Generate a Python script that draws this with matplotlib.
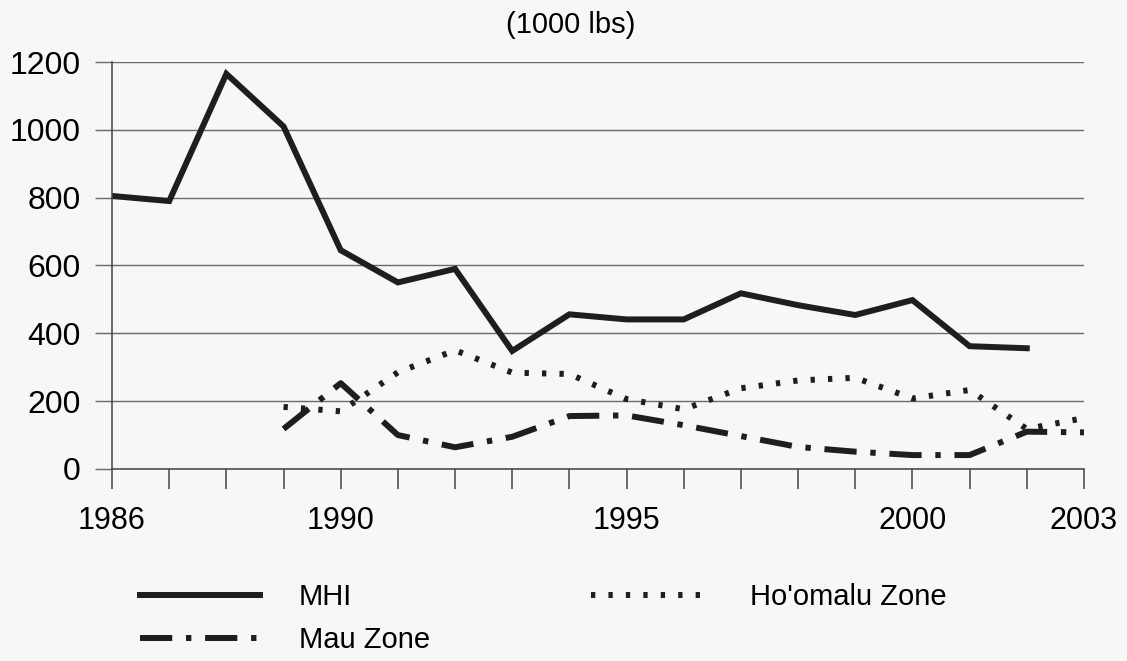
import numpy as np
import matplotlib
matplotlib.use("Agg")
import matplotlib.pyplot as plt
from matplotlib.lines import Line2D

nan = np.nan

# landings, 1000 lbs
years = list(range(1986, 2004))
mhi = [805, 790, 1165, 1010, 645, 550, 590, 348, 456, 441, 441, 518, 483, 454, 498, 362, 356, nan]
mau = [nan, nan, nan, 118, 253, 100, 64, 95, 156, 158, 129, 97, 65, 51, 41, 41, 110, 108]
hoomalu = [nan, nan, nan, 183, 170, 285, 350, 284, 280, 206, 176, 238, 261, 269, 208, 233, 118, 150]

labeled_years = [1986, 1990, 1995, 2000, 2003]
y_ticks = [0, 200, 400, 600, 800, 1000, 1200]
series_names = ["MHI", "Mau Zone", "Ho'omalu Zone"]

plt.rcParams["font.family"] = ["Liberation Sans", "DejaVu Sans"]

bg = "#f7f7f7"
ink = "#1e1e1e"
mau_style = (0, (5.4, 2.3, 0.9, 2.3))
hoo_style = (0, (0.72, 2.2))

fig = plt.figure(figsize=(11.27, 6.61), dpi=100, facecolor=bg)
ax = fig.add_axes([0.0994, 0.2905, 0.8624, 0.6157], facecolor=bg)

ax.plot(years, mhi, color=ink, lw=4.3, solid_joinstyle="miter")
ax.plot(years, mau, color=ink, lw=4.3, linestyle=mau_style)
ax.plot(years, hoomalu, color=ink, lw=4.3, linestyle=hoo_style)

ax.set_xlim(1986, 2003)
ax.set_ylim(0, 1200)
ax.set_yticks(y_ticks)
ax.set_yticklabels([str(v) for v in y_ticks], fontsize=23)
ax.set_xticks(years)
ax.set_xticklabels([str(y) if y in labeled_years else "" for y in years], fontsize=22)

ax.grid(axis="y", color="#6a6a6a", lw=1)
ax.set_axisbelow(True)
for s in ["top", "right"]:
    ax.spines[s].set_visible(False)
for s in ["left", "bottom"]:
    ax.spines[s].set_color("#444444")
    ax.spines[s].set_linewidth(1.1)
ax.tick_params(axis="y", direction="out", length=12.5, width=1, color="#6a6a6a", pad=10)
ax.tick_params(axis="x", direction="out", length=14.5, width=1.1, color="#444444", pad=12)

fig.text(0.506, 0.962, "(1000 lbs)", ha="center", va="center", fontsize=21)

handles = [
    Line2D([], [], color=ink, lw=4.3),
    Line2D([], [], color=ink, lw=4.3, linestyle=mau_style),
    Line2D([], [], color=ink, lw=4.3, linestyle=hoo_style),
]
fig.legend(handles, series_names, loc="upper left", bbox_to_anchor=(0.101, 0.157),
           ncol=2, frameon=False, handlelength=4.1, handletextpad=1.35,
           columnspacing=5.5, labelspacing=0.5,
           prop={"family": ["Liberation Sans Narrow", "Liberation Sans"], "size": 21})

fig.savefig("out.png", dpi=100, facecolor=bg)
